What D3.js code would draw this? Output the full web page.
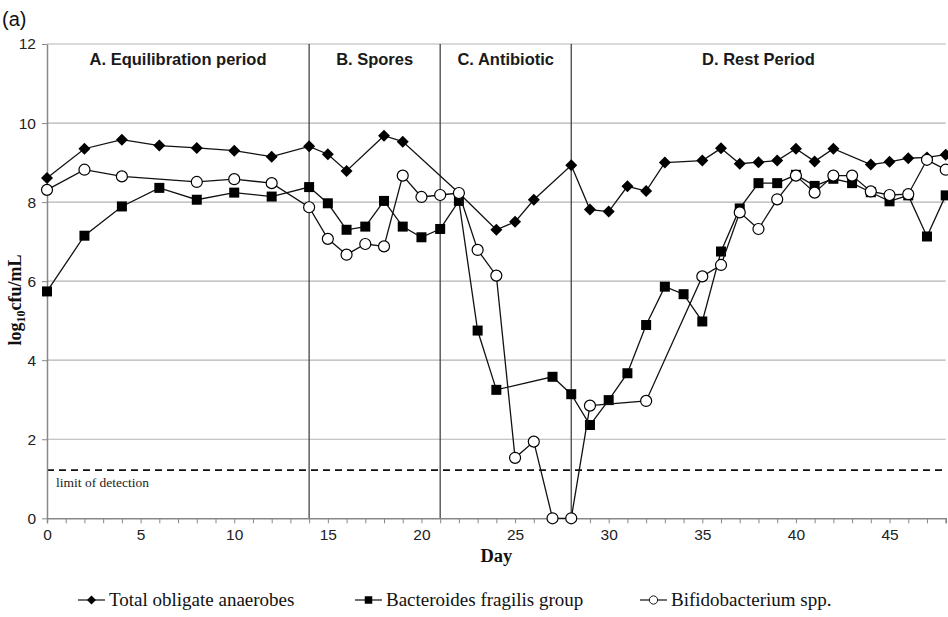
<!DOCTYPE html>
<html>
<head>
<meta charset="utf-8">
<script src="https://cdn.jsdelivr.net/npm/d3@7"></script>
<style>
  body { margin: 0; background: #fff; }
  svg { display: block; }
</style>
</head>
<body>
<div id="chart"></div>
<script>
  'use strict';

  // data
  var totalDays = [0, 2, 4, 6, 8, 10, 12, 14, 15, 16, 18, 19, 22, 24, 25, 26, 28, 29, 30, 31, 32, 33, 35, 36, 37, 38, 39, 40, 41, 42, 44, 45, 46, 47, 48];
  var totalVals = [8.61, 9.35, 9.58, 9.43, 9.37, 9.30, 9.15, 9.41, 9.21, 8.79, 9.68, 9.53, 8.23, 7.30, 7.50, 8.06, 8.93, 7.81, 7.76, 8.40, 8.28, 9.00, 9.05, 9.36, 8.97, 9.01, 9.05, 9.35, 9.03, 9.35, 8.95, 9.02, 9.11, 9.13, 9.20];

  var bactDays = [0, 2, 4, 6, 8, 10, 12, 14, 15, 16, 17, 18, 19, 20, 21, 22, 23, 24, 27, 28, 29, 30, 31, 32, 33, 34, 35, 36, 37, 38, 39, 40, 41, 42, 43, 44, 45, 46, 47, 48];
  var bactVals = [5.74, 7.15, 7.89, 8.36, 8.06, 8.24, 8.14, 8.38, 7.97, 7.30, 7.38, 8.03, 7.38, 7.11, 7.32, 8.03, 4.75, 3.25, 3.58, 3.14, 2.36, 2.99, 3.67, 4.89, 5.86, 5.67, 4.98, 6.75, 7.84, 8.48, 8.48, 8.69, 8.41, 8.59, 8.48, 8.25, 8.02, 8.17, 7.13, 8.17];

  var bifidDays = [0, 2, 4, 8, 10, 12, 14, 15, 16, 17, 18, 19, 20, 21, 22, 23, 24, 25, 26, 27, 28, 29, 32, 35, 36, 37, 38, 39, 40, 41, 42, 43, 44, 45, 46, 47, 48];
  var bifidVals = [8.31, 8.82, 8.65, 8.51, 8.58, 8.48, 7.87, 7.07, 6.67, 6.94, 6.88, 8.67, 8.13, 8.18, 8.23, 6.79, 6.14, 1.53, 1.94, 0, 0, 2.85, 2.97, 6.12, 6.41, 7.74, 7.32, 8.07, 8.67, 8.24, 8.67, 8.67, 8.27, 8.18, 8.20, 9.07, 8.82];

  var seriesNames = ['Total obligate anaerobes', 'Bacteroides fragilis group', 'Bifidobacterium spp.'];
  var periodDays = [14, 21, 28];
  var periodLabels = ['A. Equilibration period', 'B. Spores', 'C. Antibiotic', 'D. Rest Period'];
  var periodCentres = [7, 17.5, 24.5, 38];
  var yTicks = [0, 2, 4, 6, 8, 10, 12];
  var xTicks = [0, 5, 10, 15, 20, 25, 30, 35, 40, 45];
  var detectionLimit = 1.22;

  var width = 948;
  var height = 617;
  var margins = { top: 44, right: 2, bottom: 99, left: 47 };

  var svg = d3.select('#chart').append('svg')
    .attr('width', width)
    .attr('height', height);

  var x = d3.scaleLinear().domain([0, 48]).range([margins.left, 945.7]);
  var y = d3.scaleLinear().domain([0, 12]).range([518.3, margins.top]);

  var plotLeft = x(0), plotRight = x(48);

  // horizontal gridlines
  svg.append('g').selectAll('line')
    .data(yTicks.filter(function (d) { return d > 0; }))
    .enter().append('line')
      .attr('x1', plotLeft).attr('x2', plotRight)
      .attr('y1', function (d) { return y(d); })
      .attr('y2', function (d) { return y(d); })
      .attr('stroke', '#b3b3b3')
      .attr('stroke-width', 1.2);

  // period dividers
  svg.append('g').selectAll('line')
    .data(periodDays)
    .enter().append('line')
      .attr('x1', function (d) { return x(d); })
      .attr('x2', function (d) { return x(d); })
      .attr('y1', y(0)).attr('y2', y(12))
      .attr('stroke', '#444')
      .attr('stroke-width', 1.3);

  svg.append('g').selectAll('text')
    .data(periodLabels)
    .enter().append('text')
      .attr('x', function (d, i) { return x(periodCentres[i]); })
      .attr('y', 65)
      .attr('text-anchor', 'middle')
      .attr('font-family', 'Liberation Sans, Arial, sans-serif')
      .attr('font-weight', 'bold')
      .attr('font-size', 16.5)
      .attr('fill', '#1a1a1a')
      .text(function (d) { return d; });

  // limit of detection
  svg.append('line')
    .attr('x1', plotLeft).attr('x2', plotRight)
    .attr('y1', y(detectionLimit)).attr('y2', y(detectionLimit))
    .attr('stroke', '#111')
    .attr('stroke-width', 1.6)
    .attr('stroke-dasharray', '7,5');

  svg.append('text')
    .attr('x', x(0) + 9)
    .attr('y', y(detectionLimit) + 17)
    .attr('font-family', 'Liberation Serif, Times New Roman, serif')
    .attr('font-size', 13.5)
    .attr('fill', '#222')
    .text('limit of detection');

  // axes
  var xAxis = svg.append('g')
    .attr('transform', 'translate(0,' + y(0) + ')')
    .call(d3.axisBottom(x).tickValues(d3.range(0, 49)).tickSize(5).tickFormat(function (d) {
      return xTicks.indexOf(d) >= 0 ? d : '';
    }));
  xAxis.select('.domain').attr('stroke', '#888').attr('stroke-width', 1.5);
  xAxis.selectAll('.tick line').attr('stroke', '#888');
  xAxis.selectAll('.tick text')
    .attr('font-family', 'Liberation Sans, Arial, sans-serif')
    .attr('font-size', 15.5)
    .attr('fill', '#222')
    .attr('dy', '0.9em');

  var yAxis = svg.append('g')
    .attr('transform', 'translate(' + x(0) + ',0)')
    .call(d3.axisLeft(y).tickValues(yTicks).tickSize(5).tickSizeOuter(0));
  yAxis.select('.domain').attr('stroke', '#888').attr('stroke-width', 1.5);
  yAxis.selectAll('.tick line').attr('stroke', '#888');
  yAxis.selectAll('.tick text')
    .attr('font-family', 'Liberation Sans, Arial, sans-serif')
    .attr('font-size', 15.5)
    .attr('fill', '#222')
    .attr('x', -11);

  // axis titles
  svg.append('text')
    .attr('x', x(24))
    .attr('y', 562)
    .attr('text-anchor', 'middle')
    .attr('font-family', 'Liberation Serif, Times New Roman, serif')
    .attr('font-weight', 'bold')
    .attr('font-size', 18.5)
    .attr('fill', '#111')
    .text('Day');

  var yTitle = svg.append('text')
    .attr('transform', 'translate(21,300) rotate(-90)')
    .attr('text-anchor', 'middle')
    .attr('font-family', 'Liberation Serif, Times New Roman, serif')
    .attr('font-weight', 'bold')
    .attr('font-size', 18)
    .attr('fill', '#111');
  yTitle.append('tspan').text('log');
  yTitle.append('tspan').attr('font-size', 12).attr('dy', 4).text('10');
  yTitle.append('tspan').attr('dy', -4).text('cfu/mL');

  svg.append('text')
    .attr('x', 2)
    .attr('y', 26)
    .attr('font-family', 'Liberation Sans, Arial, sans-serif')
    .attr('font-size', 20)
    .attr('fill', '#111')
    .text('(a)');

  // series
  var series = [
    { days: totalDays, vals: totalVals, shape: 'diamond' },
    { days: bactDays, vals: bactVals, shape: 'square' },
    { days: bifidDays, vals: bifidVals, shape: 'circle' }
  ];

  var line = d3.line()
    .x(function (d) { return x(d[0]); })
    .y(function (d) { return y(d[1]); });

  function drawMarker(g, shape) {
    if (shape === 'diamond') {
      g.append('path').attr('d', 'M0,-6L6,0L0,6L-6,0Z').attr('fill', '#000');
    } else if (shape === 'square') {
      g.append('rect').attr('x', -5).attr('y', -5).attr('width', 10).attr('height', 10).attr('fill', '#000');
    } else {
      g.append('circle').attr('r', 5.5).attr('fill', '#fff').attr('stroke', '#000').attr('stroke-width', 1.2);
    }
  }

  series.forEach(function (s) {
    var pts = s.days.map(function (d, i) { return [d, s.vals[i]]; });
    var g = svg.append('g');
    g.append('path')
      .attr('d', line(pts))
      .attr('fill', 'none')
      .attr('stroke', '#111')
      .attr('stroke-width', 1.3);
    g.selectAll('g.pt')
      .data(pts)
      .enter().append('g')
        .attr('class', 'pt')
        .attr('transform', function (d) { return 'translate(' + x(d[0]) + ',' + y(d[1]) + ')'; })
        .each(function () { drawMarker(d3.select(this), s.shape); });
  });

  // legend
  var legendX = [78, 355, 640];
  var legend = svg.append('g').selectAll('g')
    .data(seriesNames)
    .enter().append('g')
      .attr('transform', function (d, i) { return 'translate(' + legendX[i] + ',600)'; });
  legend.append('line')
    .attr('x1', 0).attr('x2', 27)
    .attr('stroke', '#111').attr('stroke-width', 1.2);
  legend.each(function (d, i) {
    var m = d3.select(this).append('g')
      .attr('transform', 'translate(13.5,0) scale(0.75)');
    drawMarker(m, series[i].shape);
  });
  legend.append('text')
    .attr('x', 31)
    .attr('dy', '0.33em')
    .attr('font-family', 'Liberation Serif, Times New Roman, serif')
    .attr('font-size', 19)
    .attr('fill', '#111')
    .text(function (d) { return d; });
</script>
</body>
</html>
